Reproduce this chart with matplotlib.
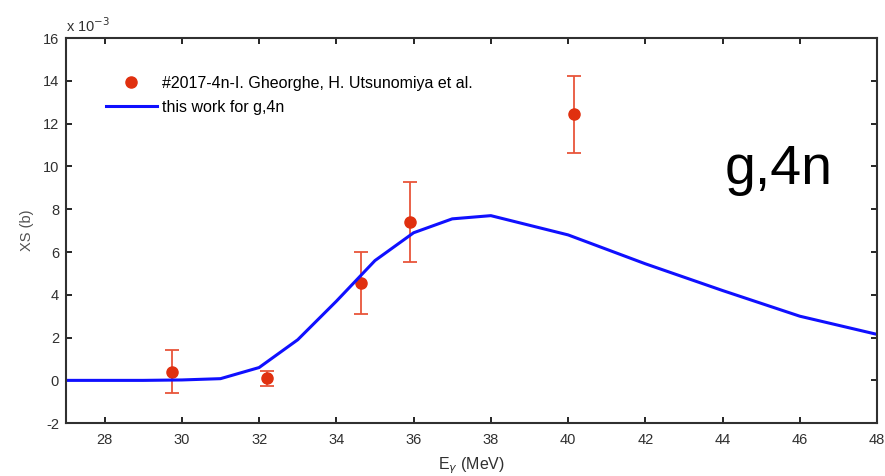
import numpy as np
import matplotlib.pyplot as plt

plt.rcParams['font.family'] = ['Liberation Sans', 'DejaVu Sans']
plt.rcParams['axes.unicode_minus'] = False

# experimental points (x10^-3 b)
exp_e = [29.75, 32.2, 34.65, 35.9, 40.15]
exp_xs = [0.4, 0.1, 4.55, 7.4, 12.45]
exp_err = [1.0, 0.35, 1.45, 1.85, 1.8]

# calculated curve
calc_e = [27, 28, 29, 30, 31, 32, 33, 34, 35, 36, 37, 38, 40, 42, 44, 46, 48]
calc_xs = [0.0, 0.0, 0.0, 0.02, 0.08, 0.6, 1.9, 3.7, 5.6, 6.9, 7.55, 7.7,
           6.8, 5.45, 4.2, 3.0, 2.15]

xticks = [28, 30, 32, 34, 36, 38, 40, 42, 44, 46, 48]
yticks = [-2, 0, 2, 4, 6, 8, 10, 12, 14, 16]

fig = plt.figure(figsize=(8.85, 4.76), dpi=100)
ax = fig.add_axes([0.0746, 0.111, 0.9164, 0.809])

red = '#e0300f'
ax.errorbar(exp_e, exp_xs, yerr=exp_err, fmt='none', ecolor='#e8553a',
            elinewidth=1.3, capsize=5, capthick=1.3)
pts, = ax.plot(exp_e, exp_xs, 'o', color=red, markersize=8,
               label='#2017-4n-I. Gheorghe, H. Utsunomiya et al.')
ln, = ax.plot(calc_e, calc_xs, color='#1010ff', lw=2.2,
              label='this work for g,4n')

ax.set_xlim(27, 48)
ax.set_ylim(-2, 16)
ax.set_xticks(xticks)
ax.set_yticks(yticks)
ax.tick_params(direction='in', length=4, width=1.2, top=True, right=True,
               labelsize=10.5, labelcolor='#303030')
ax.tick_params(axis='x', pad=7)
ax.tick_params(axis='y', pad=5)
for s in ax.spines.values():
    s.set_linewidth(1.5)
    s.set_color('#303030')

ax.text(27.0, 16.15, r'x 10$^{\mathsf{-3}}$', fontsize=10.5, color='#303030',
        ha='left', va='bottom')
ax.set_ylabel('XS (b)', fontsize=10.5, color='#505050', labelpad=6)
ax.set_xlabel(r'E$_\gamma$ (MeV)', fontsize=11.5, color='#303030', labelpad=6)

ax.text(44.05, 9.2, 'g,4n', fontsize=40, color='black', ha='left',
        va='baseline')

leg = ax.legend(handles=[pts, ln], loc='upper left',
                bbox_to_anchor=(0.041, 0.918), frameon=False,
                fontsize=11.5, handlelength=3.2, handletextpad=0.3,
                labelspacing=0.55, borderaxespad=0)

fig.savefig('out.png', dpi=100)
